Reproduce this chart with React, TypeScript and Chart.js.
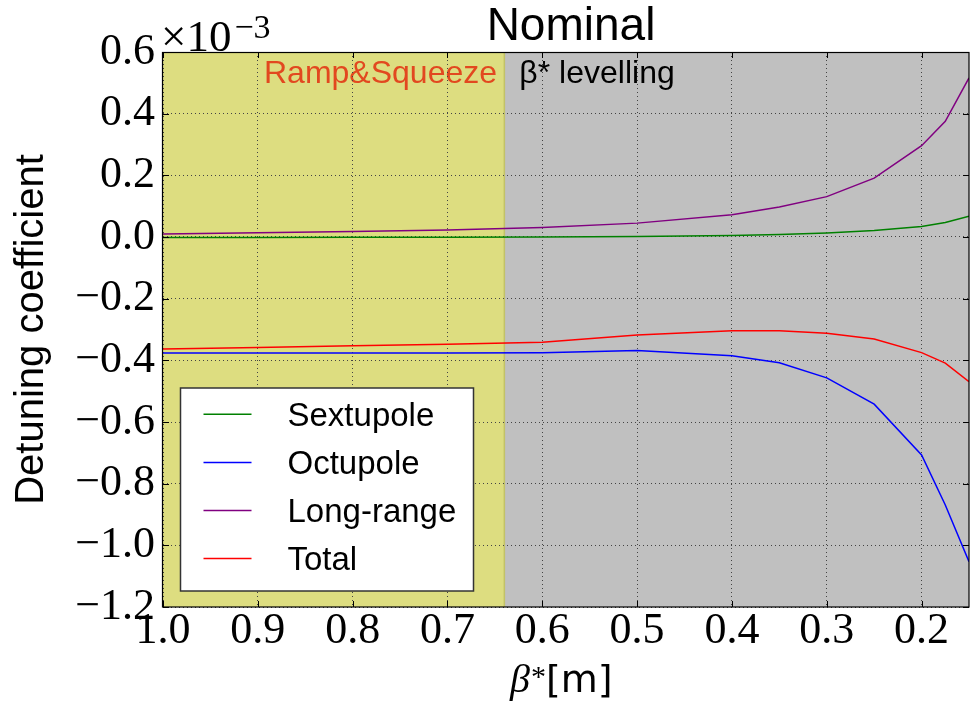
import React, { useEffect, useRef } from "react";
import { Chart, registerables } from "chart.js";

Chart.register(...registerables);

// ---- data (detuning coefficient in units of 1e-3) ----
const BETA = [1.0, 0.9, 0.8, 0.7, 0.6, 0.5, 0.4, 0.35, 0.3, 0.25, 0.2, 0.175, 0.15];
const SEXTUPOLE = [-0.002, -0.002, -0.001, -0.001, 0.0, 0.002, 0.005, 0.008, 0.013, 0.021, 0.034, 0.047, 0.067];
const OCTUPOLE = [-0.376, -0.376, -0.376, -0.376, -0.375, -0.368, -0.385, -0.408, -0.457, -0.542, -0.707, -0.869, -1.053];
const LONG_RANGE = [0.010, 0.014, 0.018, 0.023, 0.031, 0.045, 0.072, 0.097, 0.131, 0.191, 0.296, 0.375, 0.516];
const TOTAL = [-0.363, -0.358, -0.353, -0.348, -0.341, -0.318, -0.304, -0.304, -0.312, -0.331, -0.375, -0.409, -0.469];

const SERIES_NAMES = ["Sextupole", "Octupole", "Long-range", "Total"];
const SERIES_COLORS = ["#008000", "#0000ff", "#800080", "#ff0000"];

const X_TICKS = [1.0, 0.9, 0.8, 0.7, 0.6, 0.5, 0.4, 0.3, 0.2];
const Y_TICKS = [0.6, 0.4, 0.2, 0.0, -0.2, -0.4, -0.6, -0.8, -1.0, -1.2];
const X_MIN = 0.15;
const X_MAX = 1.0;
const Y_MIN = -1.2;
const Y_MAX = 0.6;
const RAMP_END = 0.64;

const TITLE = "Nominal";
const Y_TITLE = "Detuning coefficient";
const RAMP_LABEL = "Ramp&Squeeze";
const LEVEL_LABEL = "β* levelling";

const SANS = "'Liberation Sans', Arial, sans-serif";
const DEJAVU = "'DejaVu Sans', sans-serif";
const SERIF = "'Liberation Serif', 'Times New Roman', serif";

const fmt = (v: number) => {
  const r = Math.round(v * 10) / 10;
  return (r < 0 ? "\u2212" : "") + Math.abs(r).toFixed(1);
};

const decorPlugin = {
  id: "decor",
  beforeDraw(chart: any) {
    const { ctx, chartArea: a } = chart;
    const xs = chart.scales.x;
    const xr = xs.getPixelForValue(RAMP_END);
    const x1 = xs.getPixelForValue(X_MAX);
    const x2 = xs.getPixelForValue(X_MIN);
    ctx.save();
    ctx.fillStyle = "#ffffff";
    ctx.fillRect(0, 0, chart.width, chart.height);
    ctx.fillStyle = "#dddd80";
    ctx.fillRect(x1, a.top, xr - x1, a.bottom - a.top);
    ctx.fillStyle = "#c0c0c0";
    ctx.fillRect(xr, a.top, x2 - xr, a.bottom - a.top);
    ctx.strokeStyle = "#c2c266";
    ctx.lineWidth = 1.5;
    ctx.beginPath();
    ctx.moveTo(xr, a.top);
    ctx.lineTo(xr, a.bottom);
    ctx.stroke();
    // band labels
    ctx.font = `32px ${SANS}`;
    ctx.textBaseline = "alphabetic";
    ctx.textAlign = "left";
    ctx.fillStyle = "#e2481f";
    ctx.fillText(RAMP_LABEL, a.left + 101, a.top + 31);
    ctx.fillStyle = "#000000";
    ctx.fillText(LEVEL_LABEL, xr + 15, a.top + 31);
    ctx.restore();
  },
  afterDatasetsDraw(chart: any) {
    const { ctx, chartArea: a } = chart;
    const xs = chart.scales.x;
    const ys = chart.scales.y;
    ctx.save();
    // inner tick marks on all four sides
    ctx.strokeStyle = "#000";
    ctx.lineWidth = 1;
    ctx.beginPath();
    X_TICKS.forEach((v) => {
      const p = Math.round(xs.getPixelForValue(v)) + 0.5;
      ctx.moveTo(p, a.bottom);
      ctx.lineTo(p, a.bottom - 6);
      ctx.moveTo(p, a.top);
      ctx.lineTo(p, a.top + 6);
    });
    Y_TICKS.forEach((v) => {
      const p = Math.round(ys.getPixelForValue(v)) + 0.5;
      ctx.moveTo(a.left, p);
      ctx.lineTo(a.left + 6, p);
      ctx.moveTo(a.right, p);
      ctx.lineTo(a.right - 6, p);
    });
    ctx.stroke();
    // frame
    ctx.strokeStyle = "#000";
    ctx.lineWidth = 1.2;
    ctx.strokeRect(a.left - 0.5, a.top + 0.5, a.right - a.left + 0.5, a.bottom - a.top - 0.5);

    // legend
    const lx = a.left + 17.5;
    const ly = a.top + 336;
    const lw = 293;
    const lh = 203;
    ctx.fillStyle = "#ffffff";
    ctx.fillRect(lx, ly, lw, lh);
    ctx.strokeStyle = "#333";
    ctx.lineWidth = 1.5;
    ctx.strokeRect(lx, ly, lw, lh);
    const fs = 33;
    ctx.font = `${fs}px ${SANS}`;
    ctx.textAlign = "left";
    ctx.textBaseline = "alphabetic";
    chart.data.datasets.forEach((ds: any, i: number) => {
      const ry = ly + 26.3 + 48.1 * i;
      ctx.strokeStyle = ds.borderColor;
      ctx.lineWidth = 1.5;
      ctx.beginPath();
      ctx.moveTo(lx + 23, ry);
      ctx.lineTo(lx + 71, ry);
      ctx.stroke();
      ctx.fillStyle = "#000";
      ctx.fillText(ds.label, lx + 107, ry + 0.36 * fs);
    });

    // title
    ctx.fillStyle = "#000";
    ctx.font = `46px ${SANS}`;
    ctx.textAlign = "center";
    ctx.fillText(TITLE, 571, 40);

    // y title
    ctx.save();
    ctx.translate(43, (a.top + a.bottom) / 2);
    ctx.rotate(-Math.PI / 2);
    ctx.font = `40px ${SANS}`;
    ctx.textAlign = "center";
    ctx.textBaseline = "alphabetic";
    ctx.fillText(Y_TITLE, 0, 0);
    ctx.restore();

    // x title: beta* [m]
    ctx.textAlign = "left";
    ctx.textBaseline = "alphabetic";
    ctx.font = `italic 40px ${SERIF}`;
    const bx = 510;
    const by = 692;
    ctx.fillText("β", bx, by);
    const bw = ctx.measureText("β").width;
    ctx.font = `30px ${SERIF}`;
    ctx.fillText("*", bx + bw + 1, by - 6);
    ctx.font = `38px ${DEJAVU}`;
    ctx.fillText("[m]", 546, by);

    // axis multiplier
    ctx.font = `45px ${SERIF}`;
    ctx.fillText("×10", a.left - 2, 51);
    const mw = ctx.measureText("×10").width;
    ctx.font = `34px ${SERIF}`;
    ctx.fillText("\u22123", a.left - 2 + mw + 3, 38);
    ctx.restore();
  },
};

export default function App() {
  const ref = useRef<HTMLCanvasElement | null>(null);

  useEffect(() => {
    document.body.style.margin = "0";
    const canvas = ref.current;
    if (!canvas) return;
    const series = [SEXTUPOLE, OCTUPOLE, LONG_RANGE, TOTAL];
    const chart = new Chart(canvas, {
      type: "line",
      data: {
        datasets: series.map((vals, i) => ({
          label: SERIES_NAMES[i],
          data: BETA.map((b, j) => ({ x: b, y: vals[j] })),
          borderColor: SERIES_COLORS[i],
          backgroundColor: SERIES_COLORS[i],
          borderWidth: 1.5,
          pointRadius: 0,
          tension: 0,
          fill: false,
        })),
      },
      options: {
        responsive: false,
        animation: false,
        events: [],
        layout: { autoPadding: false, padding: { top: 52, right: 4, left: 0, bottom: 0 } },
        plugins: {
          legend: { display: false },
          tooltip: { enabled: false },
          title: { display: false },
        },
        scales: {
          x: {
            type: "linear",
            reverse: true,
            min: X_MIN,
            max: X_MAX,
            afterBuildTicks: (s: any) => {
              s.ticks = X_TICKS.map((v) => ({ value: v }));
            },
            afterFit: (s: any) => {
              s.height = 94;
            },
            grid: { color: "#444", lineWidth: 1, drawTicks: false },
            border: { display: false, dash: [1, 3] },
            ticks: {
              color: "#000",
              padding: 2,
              maxRotation: 0,
              autoSkip: false,
              font: { family: SERIF, size: 44, lineHeight: 1 },
              callback: (v: any) => fmt(Number(v)),
            },
          },
          y: {
            type: "linear",
            min: Y_MIN,
            max: Y_MAX,
            afterBuildTicks: (s: any) => {
              s.ticks = Y_TICKS.map((v) => ({ value: v }));
            },
            afterFit: (s: any) => {
              s.width = 163;
            },
            grid: { color: "#444", lineWidth: 1, drawTicks: false },
            border: { display: false, dash: [1, 3] },
            ticks: {
              color: "#000",
              padding: 8,
              autoSkip: false,
              font: { family: SERIF, size: 44, lineHeight: 1 },
              callback: (v: any) => fmt(Number(v)),
            },
          },
        },
      },
      plugins: [decorPlugin],
    } as any);
    return () => chart.destroy();
  }, []);

  return (
    <div style={{ position: "absolute", left: 0, top: 0, width: 973, height: 701 }}>
      <canvas ref={ref} width={973} height={701} style={{ display: "block" }} />
    </div>
  );
}
